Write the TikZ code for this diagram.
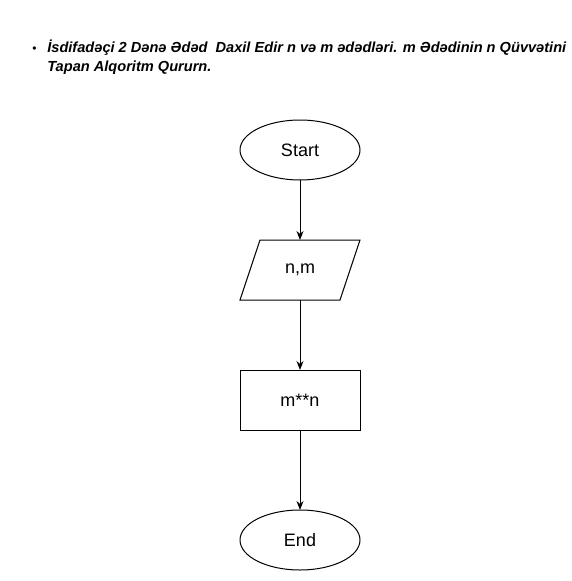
\documentclass[tikz,border=0pt]{standalone}
\usepackage{fontspec}
\setmainfont{Liberation Sans}
\usepackage{tikz}
\usetikzlibrary{arrows.meta,positioning,shapes.geometric}

\begin{document}
\begin{tikzpicture}[x=1pt,y=1pt,->,>={Stealth[length=9pt,width=7pt]},line width=1pt,
                    node distance=60pt]
  \tikzstyle{every node}=[outer sep=0pt]
  \tikzstyle{term}=[draw,ellipse,inner sep=0pt,minimum width=120pt,minimum height=60pt,font=\fontsize{18}{20}\selectfont]
  \tikzstyle{proc}=[draw,rectangle,inner sep=0pt,minimum width=120pt,minimum height=60pt,font=\fontsize{18}{20}\selectfont]
  \tikzstyle{io}=[rectangle,inner sep=0pt,minimum width=100pt,minimum height=60pt,font=\fontsize{18}{20}\selectfont]

  \useasboundingbox (0,0) rectangle (571,-581);

  % heading
  \node[anchor=west,align=left,font=\fontsize{14.6}{19}\selectfont\bfseries\itshape] (head) at (27,-57)
       {\makebox[17pt][l]{\hspace{2pt}\upshape\mdseries\fontsize{12}{12}\selectfont\textbullet}İsdifadəçi 2 Dənə Ədəd\ \ Daxil Edir n və m ədədləri. m Ədədinin n Qüvvətini\\
        \hspace{17pt}Tapan Alqoritm Qururn.};

  \node[term]  (start) at (300,-150) {Start};
  \node[io]    (inp)   [below=of start] {n,m};
  \node[proc]  (calc)  [below=70pt of inp] {m**n};
  \node[term]  (end)   [below=80pt of calc] {End};

  % input box
  \draw[-] ([xshift=-10pt]inp.south west) -- ([xshift=10pt]inp.north west)
           -- ([xshift=10pt]inp.north east) -- ([xshift=-10pt]inp.south east) -- cycle;

  \path (start) edge (inp)
        (inp)   edge (calc)
        (calc)  edge (end);
\end{tikzpicture}
\end{document}
